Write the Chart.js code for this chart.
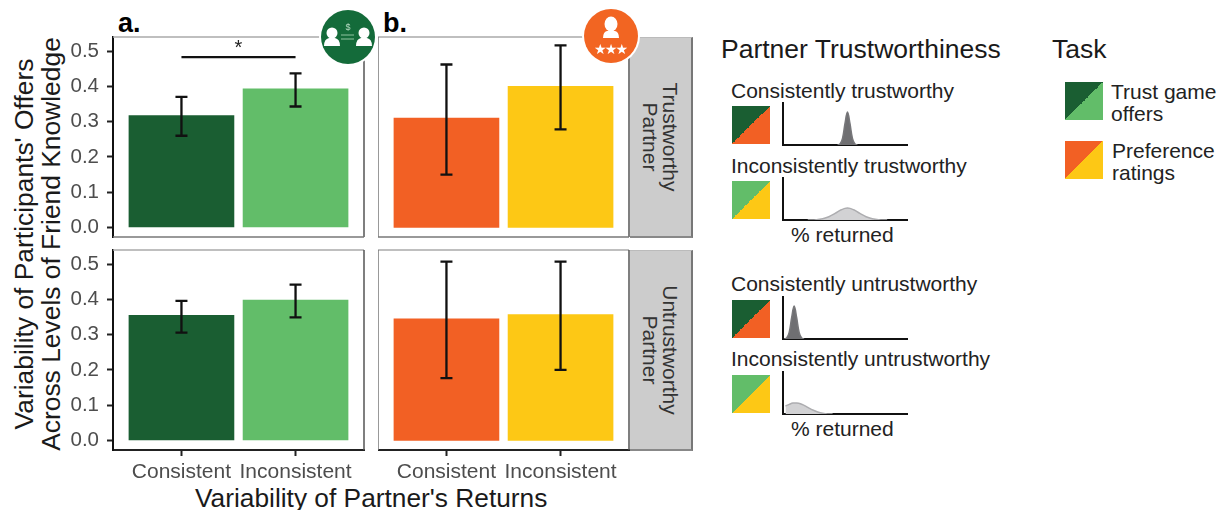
<!DOCTYPE html>
<html>
<head>
<meta charset="utf-8">
<script src="https://cdn.jsdelivr.net/npm/chart.js@4"></script>
<style>
  html, body { margin: 0; padding: 0; background: #fff; }
  #page { position: relative; width: 1222px; height: 510px; overflow: hidden; font-family: "Liberation Sans", Arial, sans-serif; color: #1a1a1a; }
  #page canvas { position: absolute; }
  .txt { position: absolute; white-space: nowrap; line-height: 1; }
  .rot { transform: translate(-50%, -50%) rotate(-90deg); }
  .rotcw { transform: translate(-50%, -50%) rotate(90deg); color: #333; font-size: 21px; }
  .strip { position: absolute; left: 630px; width: 63px; height: 201px; background: #ccc; border-right: 2px solid #777; border-bottom: 2px solid #888; border-top: 1px solid #bbb; box-sizing: border-box; }
  .swatch { position: absolute; width: 38px; height: 38px; }
  .legend { font-size: 21px; color: #222; }
  .title { font-size: 26.5px; }
  svg { position: absolute; left: 0; top: 0; }
</style>
</head>
<body>
<div id="page">
  <div class="strip" style="top:37px"></div>
  <div class="strip" style="top:250px"></div>
  <div class="txt rot" style="left:24px;top:244px;font-size:26.4px">Variability of Participants' Offers</div>
  <div class="txt rot" style="left:51px;top:244px;font-size:26.4px">Across Levels of Friend Knowledge</div>
  <div class="txt" style="left:195px;top:485px;font-size:26.3px">Variability of Partner's Returns</div>
  <div class="txt" style="left:118px;top:10px;font-size:27px;font-weight:bold;color:#000">a.</div>
  <div class="txt" style="left:383px;top:10px;font-size:27px;font-weight:bold;color:#000">b.</div>
  <div class="txt rotcw" style="left:670px;top:137px">Trustworthy</div>
  <div class="txt rotcw" style="left:650px;top:137px">Partner</div>
  <div class="txt rotcw" style="left:670px;top:350px">Untrustworthy</div>
  <div class="txt rotcw" style="left:650px;top:350px">Partner</div>

  <div class="txt title" style="left:721px;top:36px">Partner Trustworthiness</div>
  <div class="txt title" style="left:1052px;top:36px">Task</div>
  <div class="txt legend" style="left:731px;top:80px">Consistently trustworthy</div>
  <div class="txt legend" style="left:731px;top:155px">Inconsistently trustworthy</div>
  <div class="txt legend" style="left:731px;top:273px">Consistently untrustworthy</div>
  <div class="txt legend" style="left:731px;top:348px">Inconsistently untrustworthy</div>
  <div class="txt legend" style="left:791px;top:224px">% returned</div>
  <div class="txt legend" style="left:791px;top:418px">% returned</div>
  <div class="txt legend" style="left:1111px;top:81px">Trust game</div>
  <div class="txt legend" style="left:1111px;top:103px">offers</div>
  <div class="txt legend" style="left:1112px;top:140px">Preference</div>
  <div class="txt legend" style="left:1112px;top:162px">ratings</div>

  <div class="swatch" style="left:732px;top:106px;background:linear-gradient(to bottom right,#1a5e32 50%,#f26024 50%)"></div>
  <div class="swatch" style="left:732px;top:181px;background:linear-gradient(to bottom right,#62bd69 50%,#fdc815 50%)"></div>
  <div class="swatch" style="left:732px;top:300px;background:linear-gradient(to bottom right,#1a5e32 50%,#f26024 50%)"></div>
  <div class="swatch" style="left:732px;top:375px;background:linear-gradient(to bottom right,#62bd69 50%,#fdc815 50%)"></div>
  <div class="swatch" style="left:1065px;top:82px;background:linear-gradient(to bottom right,#1a5e32 50%,#62bd69 50%)"></div>
  <div class="swatch" style="left:1065px;top:141px;background:linear-gradient(to bottom right,#f26024 50%,#fdc815 50%)"></div>

  <canvas id="offersTop"></canvas>
  <canvas id="prefsTop"></canvas>
  <canvas id="offersBottom"></canvas>
  <canvas id="prefsBottom"></canvas>
  <canvas id="dens1"></canvas>
  <canvas id="dens2"></canvas>
  <canvas id="dens3"></canvas>
  <canvas id="dens4"></canvas>

  <svg width="1222" height="510">
    <circle cx="348" cy="37" r="29" fill="#fff"/>
    <circle cx="348" cy="37" r="27" fill="#146b3a"/>
    <g fill="#fff">
      <circle cx="332" cy="33" r="5.5"/>
      <path d="M324 46 q0 -7 5 -8 h6 q5 1 5 8 z"/>
      <circle cx="364" cy="33" r="5.5"/>
      <path d="M356 46 q0 -7 5 -8 h6 q5 1 5 8 z"/>
    </g>
    <text x="348" y="30" font-size="9" text-anchor="middle" fill="#b9dcc4" font-family="Liberation Sans">$</text>
    <path d="M341 35 h13 M341 39 h13" stroke="#8fc5a0" stroke-width="1"/>
    <circle cx="611" cy="36" r="29" fill="#fff"/>
    <circle cx="611" cy="36" r="27" fill="#f26522"/>
    <g fill="#fff">
      <ellipse cx="611" cy="24" rx="6.5" ry="7.5"/>
      <path d="M603 38 q0 -6 4 -7 h8 q4 1 4 7 z"/>
    </g>
    <text x="611" y="54" font-size="14" text-anchor="middle" fill="#fff" font-family="DejaVu Sans" textLength="34">★★★</text>
  </svg>
</div>

<script>
const returnVariability = ['Consistent', 'Inconsistent'];
const xPositions = [1, 2];
const yTicks = [0, 0.1, 0.2, 0.3, 0.4, 0.5];

const offersTrustworthy = [0.317, 0.393];
const offersTrustworthyLow = [0.26, 0.343];
const offersTrustworthyHigh = [0.37, 0.437];
const offersUntrustworthy = [0.355, 0.398];
const offersUntrustworthyLow = [0.306, 0.349];
const offersUntrustworthyHigh = [0.396, 0.442];

const prefsTrustworthy = [0.31, 0.40];
const prefsTrustworthyLow = [0.15, 0.278];
const prefsTrustworthyHigh = [0.462, 0.516];
const prefsUntrustworthy = [0.345, 0.357];
const prefsUntrustworthyLow = [0.177, 0.2];
const prefsUntrustworthyHigh = [0.507, 0.507];

const offerColors = ['#1a5e32', '#62bd69'];
const prefColors = ['#f26024', '#fdc815'];

// % returned densities, heights read relative to the tallest peak
const consTrustX = [44, 46, 48, 50, 52, 54, 56, 58, 60];
const consTrustY = [0, 0.03, 0.2, 0.65, 1, 0.65, 0.2, 0.03, 0];
const inconsTrustX = [20, 27, 32, 37, 42, 47, 52, 57, 62, 67, 72, 77, 84];
const inconsTrustY = [0, 0.01, 0.04, 0.1, 0.2, 0.31, 0.36, 0.31, 0.2, 0.1, 0.04, 0.01, 0];
const consUntrustX = [1, 3, 5, 7, 9, 11, 13, 15, 17];
const consUntrustY = [0, 0.03, 0.2, 0.65, 1, 0.65, 0.2, 0.03, 0];
const inconsUntrustX = [2, 5, 8, 11, 14, 17, 20, 24, 28, 32, 36, 40];
const inconsUntrustY = [0.24, 0.29, 0.33, 0.33, 0.31, 0.26, 0.2, 0.12, 0.06, 0.02, 0, 0];

const tickColor = '#4d4d4d';

function edge(c, color, x1, y1, x2, y2) {
  c.strokeStyle = color;
  c.beginPath();
  c.moveTo(x1, y1);
  c.lineTo(x2, y2);
  c.stroke();
}

const panelPlugin = {
  id: 'panelPlugin',
  beforeDatasetsDraw(chart) {
    const a = chart.chartArea, c = chart.ctx;
    c.save();
    c.lineWidth = 1.5;
    edge(c, '#aaa', a.left, a.top, a.right, a.top);
    edge(c, '#555', a.right, a.top, a.right, a.bottom);
    // the black axis lines stay on top where the panel has an axis
    if (!chart.options.scales.y.display) edge(c, '#777', a.left, a.top, a.left, a.bottom);
    if (!chart.options.scales.x.display) edge(c, '#777', a.left, a.bottom, a.right, a.bottom);
    c.restore();
  },
  afterDatasetsDraw(chart, args, opts) {
    const c = chart.ctx, x = chart.scales.x, y = chart.scales.y;
    c.save();
    c.strokeStyle = '#111';
    c.lineWidth = 2.3;
    opts.low.forEach((low, i) => {
      const px = x.getPixelForValue(xPositions[i]);
      const yLow = y.getPixelForValue(low), yHigh = y.getPixelForValue(opts.high[i]);
      c.beginPath();
      c.moveTo(px, yLow); c.lineTo(px, yHigh);
      c.moveTo(px - 6, yLow); c.lineTo(px + 6, yLow);
      c.moveTo(px - 6, yHigh); c.lineTo(px + 6, yHigh);
      c.stroke();
    });
    if (opts.sig) {
      const y1 = y.getPixelForValue(opts.sig);
      c.beginPath();
      c.moveTo(x.getPixelForValue(1), y1);
      c.lineTo(x.getPixelForValue(2), y1);
      c.stroke();
      c.fillStyle = '#222';
      c.font = '20px "Liberation Sans"';
      c.textAlign = 'center';
      c.fillText('*', (x.getPixelForValue(1) + x.getPixelForValue(2)) / 2, y1 - 3);
    }
    c.restore();
  }
};

function drawPanel(id, left, top, showY, showX, values, low, high, colors, sig) {
  const canvas = document.getElementById(id);
  const w = showY ? 310 : 257, h = showX ? 247 : 208;
  canvas.width = w; canvas.height = h;
  canvas.style.left = left + 'px';
  canvas.style.top = top + 'px';
  new Chart(canvas, {
    type: 'bar',
    data: {
      datasets: [{
        data: values.map((v, i) => ({ x: xPositions[i], y: v })),
        backgroundColor: colors,
        barThickness: 105
      }]
    },
    options: {
      responsive: false,
      animation: false,
      layout: { autoPadding: false, padding: { left: 0, right: 6, top: 7, bottom: showX ? 0 : 1 } },
      plugins: {
        legend: { display: false },
        tooltip: { enabled: false },
        panelPlugin: { low: low, high: high, sig: sig }
      },
      scales: {
        x: {
          type: 'linear',
          offset: false,
          min: 0.4,
          max: 2.6,
          display: showX,
          afterFit: s => { s.height = showX ? 40 : 0; s.paddingLeft = 0; s.paddingRight = 0; },
          afterBuildTicks: s => { s.ticks = xPositions.map(v => ({ value: v })); },
          ticks: {
            autoSkip: false,
            maxRotation: 0,
            color: tickColor,
            padding: 4,
            font: { family: 'Liberation Sans', size: 21 },
            callback: v => returnVariability[xPositions.indexOf(v)]
          },
          grid: { drawOnChartArea: false, offset: false, tickLength: 6, tickColor: '#222', tickWidth: 2 },
          border: { color: '#222', width: 2 }
        },
        y: {
          min: -0.027,
          max: 0.54,
          display: showY,
          afterFit: s => { s.width = showY ? 53 : 0; s.paddingTop = 0; s.paddingBottom = 0; },
          afterBuildTicks: s => { s.ticks = yTicks.map(v => ({ value: v })); },
          ticks: {
            color: tickColor,
            padding: 8,
            font: { family: 'Liberation Sans', size: 20.5 },
            callback: v => v.toFixed(1)
          },
          grid: { drawOnChartArea: false, tickLength: 6, tickColor: '#222', tickWidth: 2 },
          border: { color: '#111', width: 2 }
        }
      }
    },
    plugins: [panelPlugin]
  });
}

function drawDensity(id, top, xs, ys, fill, line) {
  const canvas = document.getElementById(id);
  canvas.width = 140; canvas.height = 50;
  canvas.style.left = '775px';
  canvas.style.top = (top - 4) + 'px';
  new Chart(canvas, {
    type: 'line',
    data: {
      datasets: [{
        data: xs.map((v, i) => ({ x: v, y: ys[i] })),
        fill: 'origin',
        backgroundColor: fill,
        borderColor: line,
        borderWidth: 1.5,
        pointRadius: 0,
        tension: 0.4
      }]
    },
    options: {
      responsive: false,
      animation: false,
      layout: { autoPadding: false, padding: { left: 8, right: 8, top: 4, bottom: 4 } },
      plugins: { legend: { display: false }, tooltip: { enabled: false } },
      scales: {
        x: {
          type: 'linear', min: 0, max: 100,
          afterFit: s => { s.height = 0; },
          ticks: { display: false },
          grid: { display: false },
          border: { color: '#111', width: 2 }
        },
        y: {
          min: 0, max: 1.27,
          afterFit: s => { s.width = 0; },
          ticks: { display: false },
          grid: { display: false },
          border: { color: '#111', width: 2 }
        }
      }
    }
  });
}

drawPanel('offersTop', 60, 30, true, false, offersTrustworthy, offersTrustworthyLow, offersTrustworthyHigh, offerColors, 0.483);
drawPanel('prefsTop', 378, 30, false, false, prefsTrustworthy, prefsTrustworthyLow, prefsTrustworthyHigh, prefColors, null);
drawPanel('offersBottom', 60, 243, true, true, offersUntrustworthy, offersUntrustworthyLow, offersUntrustworthyHigh, offerColors, null);
drawPanel('prefsBottom', 378, 243, false, true, prefsUntrustworthy, prefsUntrustworthyLow, prefsUntrustworthyHigh, prefColors, null);

drawDensity('dens1', 103, consTrustX, consTrustY, '#6f6f72', '#77777a');
drawDensity('dens2', 178, inconsTrustX, inconsTrustY, '#d2d2d4', '#adadb0');
drawDensity('dens3', 297, consUntrustX, consUntrustY, '#6f6f72', '#77777a');
drawDensity('dens4', 372, inconsUntrustX, inconsUntrustY, '#d2d2d4', '#adadb0');
</script>
</body>
</html>
